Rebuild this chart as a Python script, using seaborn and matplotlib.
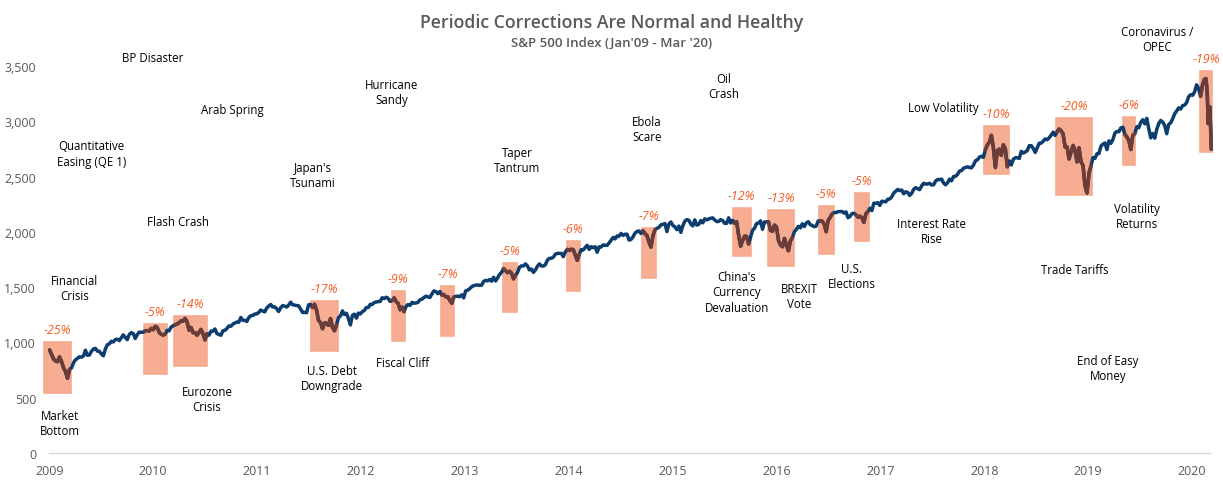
import numpy as np
import pandas as pd
import matplotlib
matplotlib.use("Agg")
import matplotlib.pyplot as plt
import seaborn as sns
from matplotlib.patches import Rectangle
from matplotlib.ticker import FuncFormatter

# ---------------- data: S&P 500 weekly levels ----------------
sp_2009 = [931.8, 890.4, 850.1, 831.9, 825.9, 868.6, 826.8, 770.0, 735.1, 676.0, 756.6, 768.5, 815.9,
           842.5, 856.6, 869.6, 866.2, 877.5, 929.2, 882.9, 887.0, 919.1, 940.1, 946.2, 921.2, 918.9,
           896.4, 879.1, 940.4, 979.3, 987.5, 1010.5, 1004.1, 1026.1, 1028.9, 1016.4, 1042.7, 1068.3,
           1044.4, 1025.2, 1071.5, 1087.7, 1079.6, 1036.2, 1069.3, 1093.5, 1091.4, 1091.5, 1106.0,
           1106.4, 1102.5, 1126.5]
sp_2010 = [1115.1, 1145.0, 1136.0, 1091.8, 1073.9, 1066.2, 1075.5, 1109.2, 1104.5, 1138.7, 1150.0,
           1159.9, 1166.6, 1178.1, 1194.4, 1192.1, 1217.3, 1186.7, 1110.9, 1135.7, 1087.7, 1089.4,
           1064.9, 1091.6, 1117.5, 1076.8, 1022.6, 1078.0, 1064.9, 1102.7, 1101.6, 1121.6, 1079.3,
           1071.7, 1064.6, 1104.5, 1109.6, 1125.6, 1148.7, 1146.2, 1165.2, 1176.2, 1183.1, 1183.3,
           1225.9, 1199.2, 1199.7, 1189.4, 1224.7, 1240.4, 1243.9, 1256.8, 1257.6]
sp_2011 = [1271.5, 1293.2, 1283.4, 1276.3, 1310.9, 1329.2, 1343.0, 1319.9, 1321.2, 1304.3, 1279.2,
           1313.8, 1332.4, 1328.2, 1319.7, 1337.4, 1363.6, 1340.2, 1337.8, 1333.3, 1331.1, 1300.2,
           1271.0, 1271.5, 1268.5, 1339.7, 1343.8, 1316.1, 1345.0, 1292.3, 1199.4, 1178.8, 1123.5,
           1176.8, 1174.0, 1154.2, 1216.0, 1136.4, 1105.0, 1155.5, 1224.6, 1238.3, 1285.1, 1253.2,
           1263.9, 1215.7, 1158.7, 1244.3, 1255.2, 1219.7, 1265.3, 1257.6]
sp_2012 = [1277.8, 1289.1, 1315.4, 1316.3, 1344.9, 1342.6, 1361.2, 1365.7, 1369.6, 1370.9, 1404.2,
           1397.1, 1408.5, 1398.1, 1370.3, 1378.5, 1403.4, 1369.1, 1353.4, 1295.2, 1317.8, 1278.0,
           1325.7, 1342.8, 1335.0, 1362.2, 1354.7, 1356.8, 1362.7, 1386.0, 1391.0, 1405.9, 1418.2,
           1411.1, 1406.6, 1437.9, 1465.8, 1460.2, 1440.7, 1460.9, 1428.6, 1433.2, 1411.9, 1414.2,
           1380.0, 1355.0, 1409.2, 1416.2, 1418.1, 1413.6, 1430.2, 1402.4]
sp_2013 = [1466.5, 1472.1, 1486.0, 1503.0, 1513.2, 1517.9, 1519.8, 1515.6, 1518.2, 1551.2, 1560.7,
           1556.9, 1569.2, 1553.3, 1588.9, 1555.3, 1582.2, 1614.4, 1633.7, 1667.5, 1649.6, 1630.7,
           1643.4, 1626.7, 1575.0, 1606.3, 1631.9, 1680.2, 1692.1, 1691.7, 1709.7, 1691.4, 1655.8,
           1663.5, 1633.0, 1655.2, 1688.0, 1709.9, 1691.8, 1690.5, 1703.2, 1744.5, 1759.8, 1761.6,
           1770.6, 1798.2, 1804.8, 1805.8, 1805.1, 1775.3, 1818.3, 1841.4]
sp_2014 = [1831.4, 1842.4, 1838.7, 1790.3, 1742.0, 1797.0, 1838.6, 1836.3, 1859.5, 1878.0, 1841.1,
           1866.5, 1857.6, 1865.1, 1815.7, 1864.9, 1863.4, 1881.1, 1878.5, 1877.9, 1900.5, 1923.6,
           1949.4, 1936.2, 1962.9, 1961.0, 1985.4, 1967.6, 1978.2, 1978.3, 1925.2, 1931.6, 1955.1,
           1988.4, 2003.4, 2007.7, 1985.5, 2010.4, 1982.9, 1967.9, 1906.1, 1862.0, 1964.6, 2018.1,
           2031.9, 2039.8, 2063.5, 2067.6, 2075.4, 2002.3, 2070.7, 2088.8]
sp_2015 = [2058.2, 2044.8, 2019.4, 2051.8, 1995.0, 2055.5, 2097.0, 2110.3, 2104.5, 2071.3, 2053.4,
           2108.1, 2061.0, 2067.0, 2102.1, 2081.2, 2117.7, 2108.3, 2116.1, 2122.7, 2126.1, 2107.4,
           2092.8, 2094.1, 2110.0, 2101.5, 2076.8, 2076.6, 2126.6, 2079.7, 2103.8, 2077.6, 2091.5,
           1970.9, 1870.0, 1921.2, 1961.1, 1958.0, 1890.0, 1951.4, 2014.9, 2033.1, 2075.2, 2079.4,
           2099.2, 2023.0, 2089.2, 2090.1, 2091.7, 2012.4, 2005.6, 2061.0]
sp_2016 = [2043.9, 1922.0, 1880.3, 1865.0, 1940.2, 1880.1, 1829.0, 1917.8, 1948.1, 2000.0, 2022.2,
           2049.6, 2035.9, 2072.8, 2047.6, 2080.7, 2091.6, 2065.3, 2057.1, 2046.6, 2052.3, 2099.1,
           2099.1, 2096.1, 2071.2, 2001.0, 2103.0, 2129.9, 2161.7, 2175.0, 2173.6, 2182.9, 2184.1,
           2183.9, 2169.0, 2180.0, 2127.8, 2139.2, 2164.7, 2168.3, 2153.7, 2133.0, 2141.2, 2126.4,
           2085.2, 2164.5, 2181.9, 2213.4, 2192.0, 2259.5, 2258.1, 2263.8, 2238.8]
sp_2017 = [2277.0, 2274.6, 2271.3, 2294.7, 2297.4, 2316.1, 2351.2, 2367.3, 2383.1, 2372.6, 2378.3,
           2344.0, 2362.7, 2355.5, 2329.0, 2348.7, 2384.2, 2399.3, 2390.9, 2381.7, 2415.8, 2439.1,
           2431.8, 2433.2, 2438.3, 2423.4, 2425.2, 2459.3, 2472.5, 2472.1, 2476.8, 2441.3, 2425.6,
           2443.1, 2476.6, 2461.4, 2500.2, 2502.2, 2519.4, 2549.3, 2553.2, 2575.2, 2581.1, 2587.8,
           2582.3, 2578.9, 2602.4, 2642.2, 2651.5, 2675.8, 2683.3, 2673.6]
sp_2018 = [2743.2, 2786.2, 2810.3, 2872.9, 2762.1, 2581.0, 2732.2, 2747.3, 2691.3, 2786.6, 2752.0,
           2588.3, 2640.9, 2604.5, 2656.3, 2670.1, 2669.9, 2663.4, 2727.7, 2713.0, 2721.3, 2734.6,
           2779.0, 2779.4, 2754.9, 2718.4, 2759.8, 2801.3, 2801.8, 2818.8, 2840.4, 2833.3, 2850.1,
           2874.7, 2901.5, 2871.7, 2905.0, 2929.7, 2914.0, 2885.6, 2767.1, 2767.8, 2658.7, 2723.1,
           2781.0, 2736.3, 2632.6, 2760.2, 2633.1, 2600.0, 2416.6, 2351.1]
sp_2019 = [2531.9, 2596.3, 2670.7, 2664.8, 2706.5, 2707.9, 2775.6, 2792.7, 2803.7, 2743.1, 2822.5,
           2800.7, 2834.4, 2892.7, 2907.4, 2905.0, 2939.9, 2945.6, 2881.4, 2859.5, 2826.1, 2744.0,
           2873.3, 2887.0, 2950.5, 2941.8, 2990.4, 3013.8, 2976.6, 3025.9, 2932.1, 2850.0, 2888.7,
           2847.1, 2926.5, 2978.7, 3007.4, 2992.1, 2961.8, 2887.0, 2970.3, 2986.2, 3022.6, 3066.9,
           3093.1, 3120.5, 3110.3, 3141.0, 3145.9, 3168.8, 3221.2, 3240.0]
dates_2020 = ["2020-01-03", "2020-01-10", "2020-01-17", "2020-01-24", "2020-01-31", "2020-02-07",
              "2020-02-14", "2020-02-19", "2020-02-21", "2020-02-24", "2020-02-27", "2020-03-02",
              "2020-03-04", "2020-03-06", "2020-03-09"]
sp_2020 = [3234.9, 3265.4, 3329.6, 3295.5, 3225.5, 3327.7, 3380.2, 3386.2, 3337.8, 3225.9, 2978.8,
           3090.2, 3130.1, 2972.4, 2746.6]

years = list(range(2009, 2020))
yearly_values = [sp_2009, sp_2010, sp_2011, sp_2012, sp_2013, sp_2014, sp_2015, sp_2016,
                 sp_2017, sp_2018, sp_2019]

# correction windows (decimal years), box ranges (index points), labels
corr_start = [2008.95, 2009.91, 2010.20, 2011.52, 2012.30, 2012.77, 2013.37, 2013.98, 2014.71,
              2015.58, 2015.92, 2016.41, 2016.76, 2018.00, 2018.69, 2019.34, 2020.08]
corr_end = [2009.21, 2010.13, 2010.52, 2011.78, 2012.42, 2012.90, 2013.50, 2014.11, 2014.84,
            2015.75, 2016.17, 2016.55, 2016.89, 2018.24, 2019.04, 2019.45, 2020.19]
corr_low = [540, 714, 786, 921, 1014, 1060, 1271, 1466, 1583, 1782, 1692, 1798, 1918, 2523, 2333,
            2604, 2722]
corr_high = [1000, 1165, 1240, 1379, 1466, 1511, 1716, 1915, 2035, 2216, 2198, 2234, 2355, 2954,
             3026, 3038, 3453]
corr_labels = ["-25%", "-5%", "-14%", "-17%", "-9%", "-7%", "-5%", "-6%", "-7%", "-12%", "-13%",
               "-5%", "-5%", "-10%", "-20%", "-6%", "-19%"]

event_labels = ["Financial\nCrisis", "Market\nBottom", "Quantitative\nEasing (QE 1)", "BP Disaster",
                "Arab Spring", "Flash Crash", "Japan's\nTsunami", "Hurricane\nSandy",
                "Eurozone\nCrisis", "U.S. Debt\nDowngrade", "Fiscal Cliff", "Taper\nTantrum",
                "Ebola\nScare", "Oil\nCrash", "China's\nCurrency\nDevaluation", "BREXIT\nVote",
                "U.S.\nElections", "Interest Rate\nRise", "Low Volatility", "Trade Tariffs",
                "End of Easy\nMoney", "Volatility\nReturns", "Coronavirus /\nOPEC"]
event_x = [2009.247, 2009.103, 2009.408, 2009.998, 2010.758, 2010.239, 2011.538, 2012.298,
           2010.518, 2011.721, 2012.404, 2013.502, 2014.753, 2015.494, 2015.619, 2016.216,
           2016.726, 2017.496, 2017.602, 2018.872, 2019.190, 2019.469, 2019.661]
event_y = [1492, 271, 2709, 3572, 3102, 2089, 2514, 3265, 488, 678, 817, 2650, 2930, 3319, 1456,
           1420, 1601, 2008, 3120, 1655, 769, 2143, 3744]

# ---------------- build table ----------------
frames = []
for yr, vals in zip(years, yearly_values):
    d = pd.date_range(f"{yr}-01-01", periods=len(vals), freq="W-FRI")
    frames.append(pd.DataFrame({"date": d, "value": vals}))
frames.append(pd.DataFrame({"date": pd.to_datetime(dates_2020), "value": sp_2020}))
df = pd.concat(frames, ignore_index=True)
df["t"] = df["date"].dt.year + (df["date"].dt.dayofyear - 1) / (365 + df["date"].dt.is_leap_year.astype(int))

# ---------------- style ----------------
sns.set_theme(style="white")
plt.rcParams["font.family"] = ["Open Sans", "DejaVu Sans"]

BLUE = "#0B3D6F"
BROWN = "#6E3B36"
BOX = "#F6A98C"
ORANGE = "#F25C22"
GREY = "#595959"

fig = plt.figure(figsize=(12.23, 4.85), dpi=100)
ax = fig.add_axes([38.9 / 1223, 31 / 485, (1218 - 38.9) / 1223, (454 - 55.9) / 485])

for x0, x1, lo, hi in zip(corr_start, corr_end, corr_low, corr_high):
    ax.add_patch(Rectangle((x0, lo), x1 - x0, hi - lo, facecolor=BOX, edgecolor=BOX,
                           linewidth=1.2, alpha=0.95, zorder=1))

sns.lineplot(data=df, x="t", y="value", color=BLUE, linewidth=2.5, estimator=None, sort=False,
             ax=ax, zorder=3)
for x0, x1 in zip(corr_start, corr_end):
    sub = df[(df["t"] >= x0) & (df["t"] <= x1)]
    sns.lineplot(data=sub, x="t", y="value", color=BROWN, linewidth=2.5, estimator=None,
                 sort=False, ax=ax, zorder=4)

for x0, x1, hi, lab in zip(corr_start, corr_end, corr_high, corr_labels):
    ax.annotate(lab, xy=((x0 + x1) / 2, hi), xytext=(0, 9), textcoords="offset points",
                ha="center", va="center", color=ORANGE, fontsize=9, fontstyle="italic",
                fontweight="normal")

for lab, x, y in zip(event_labels, event_x, event_y):
    ax.text(x, y, lab, ha="center", va="center", fontsize=8.3, color="#000000", linespacing=1.25)

ax.set_xlim(2008.9, 2020.25)
ax.set_ylim(0, 3600)
ax.set_xticks(range(2009, 2021))
ax.set_xticklabels([str(y) for y in range(2009, 2021)])
ax.set_yticks(range(0, 4000, 500))
ax.yaxis.set_major_formatter(FuncFormatter(lambda v, p: f"{int(v):,}"))
for s in ["top", "right", "left"]:
    ax.spines[s].set_visible(False)
ax.spines["bottom"].set_color("#D9D9D9")
ax.spines["bottom"].set_linewidth(1.0)
ax.spines["bottom"].set_bounds(2009, 2020.17)
ax.tick_params(axis="x", direction="inout", length=4, color="#E3E3E3", pad=6,
               labelsize=9, labelcolor=GREY)
ax.tick_params(axis="y", length=0, pad=2, labelsize=9, labelcolor=GREY)
ax.set_xlabel("")
ax.set_ylabel("")
ax.grid(False)

fig.text(612 / 1223, 1 - 22.7 / 485, "Periodic Corrections Are Normal and Healthy", ha="center",
         va="center", fontsize=12.7, fontweight="semibold", color=GREY)
fig.text(612 / 1223, 1 - 43.3 / 485, "S&P 500 Index (Jan'09 - Mar '20)", ha="center",
         va="center", fontsize=9.5, fontweight="semibold", color=GREY)

fig.savefig("out.png", dpi=100)
